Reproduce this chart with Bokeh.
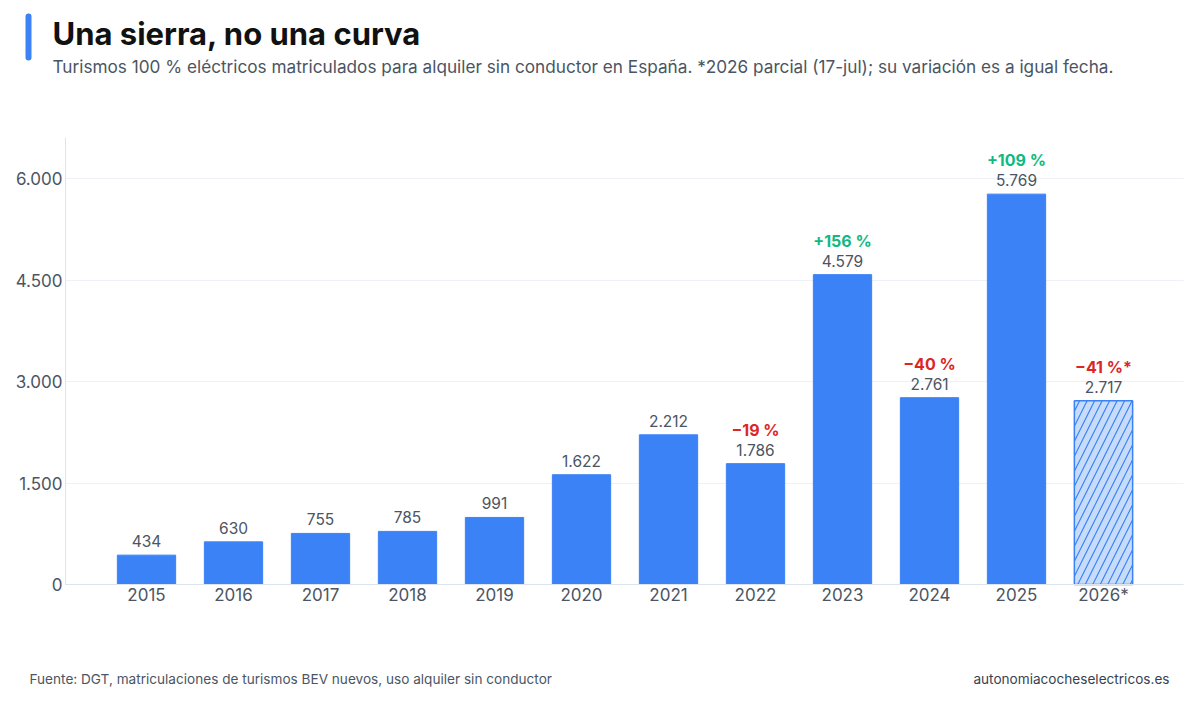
from bokeh.plotting import figure
from bokeh.models import ColumnDataSource, Label, FixedTicker, BoxAnnotation, Range1d
from bokeh.core.properties import value
from bokeh.embed import file_html
from bokeh.resources import INLINE

# ---- data ----
categories = ["2015", "2016", "2017", "2018", "2019", "2020", "2021", "2022", "2023", "2024", "2025", "2026*"]
registrations = [434, 630, 755, 785, 991, 1622, 2212, 1786, 4579, 2761, 5769, 2717]
variation_labels = ["", "", "", "", "", "", "", "\u221219 %", "+156 %", "\u221240 %", "+109 %", "\u221241 %*"]
variation_sign = [0, 0, 0, 0, 0, 0, 0, -1, 1, -1, 1, -1]
partial_year = [False] * 11 + [True]
y_ticks = [0, 1500, 3000, 4500, 6000]

TITLE = "Una sierra, no una curva"
SUBTITLE = "Turismos 100 % eléctricos matriculados para alquiler sin conductor en España. *2026 parcial (17-jul); su variación es a igual fecha."
SOURCE = "Fuente: DGT, matriculaciones de turismos BEV nuevos, uso alquiler sin conductor"
SITE = "autonomiacocheselectricos.es"

FONT = "Inter"
BLUE = "#3b82f6"
GREEN = "#10b981"
RED = "#dc2626"
GRAY = "#4b5563"

# ---- layout geometry (canvas pixels) ----
W, H = 1184, 687
PLOT_L, PLOT_R, PLOT_T, PLOT_B = 65, 1183, 137, 584
FIRST_CAT_PX, CAT_STEP_PX = 146, 87
PX_PER_UNIT = 406 / 6000

def fmt(v):
    return f"{v:,}".replace(",", ".")

def xd(px):
    return (px - FIRST_CAT_PX) / CAT_STEP_PX

def yd(py):
    return (PLOT_B - py) / PX_PER_UNIT

idx = list(range(len(categories)))
full = dict(x=[], y=[], lab=[])
part = dict(x=[], y=[], lab=[])
for i, v, pf in zip(idx, registrations, partial_year):
    d = part if pf else full
    d["x"].append(i); d["y"].append(v); d["lab"].append(fmt(v))

pct = dict(x=[], y=[], lab=[], col=[])
for i, v, lab, s in zip(idx, registrations, variation_labels, variation_sign):
    if lab:
        pct["x"].append(i); pct["y"].append(v); pct["lab"].append(lab)
        pct["col"].append(GREEN if s > 0 else RED)

p = figure(width=W, height=H, output_backend="svg", toolbar_location=None,
           x_range=Range1d(xd(0), xd(W)), y_range=Range1d(yd(H), yd(0)), title=None, min_border=0)
p.outline_line_color = None
p.background_fill_color = "white"
p.border_fill_color = "white"

p.vbar(x="x", top="y", width=0.67, source=ColumnDataSource(full), fill_color=BLUE, line_color=BLUE)
p.vbar(x="x", top="y", width=0.67, source=ColumnDataSource(part), fill_color="#c6dcfa",
       line_color=BLUE, line_width=1.5, hatch_pattern="/", hatch_color=BLUE, hatch_scale=15, hatch_weight=1.2)

all_lab = dict(x=full["x"] + part["x"], y=full["y"] + part["y"], lab=full["lab"] + part["lab"])
p.text(x="x", y="y", text="lab", source=ColumnDataSource(all_lab), text_align="center",
       text_baseline="alphabetic", y_offset=-14, text_font=value(FONT), text_font_size="15.5px", text_color=GRAY)
p.text(x="x", y="y", text="lab", source=ColumnDataSource(pct), text_align="center",
       text_baseline="alphabetic", y_offset=-34, text_font=value(FONT), text_font_size="16px",
       text_font_style="bold", text_color="col")

# axes placed at fixed data locations inside the full-canvas frame
p.xaxis.ticker = FixedTicker(ticks=idx)
p.xaxis.major_label_overrides = {i: c for i, c in zip(idx, categories)}
p.xaxis.fixed_location = 0
p.xaxis.bounds = (xd(PLOT_L), xd(PLOT_R))
p.yaxis.ticker = FixedTicker(ticks=y_ticks)
p.yaxis.major_label_overrides = {t: fmt(t) for t in y_ticks}
p.yaxis.fixed_location = xd(PLOT_L)
p.yaxis.bounds = (0, yd(PLOT_T))
for ax in (p.xaxis, p.yaxis):
    ax.major_tick_line_color = None
    ax.minor_tick_line_color = None
    ax.major_tick_out = 0
    ax.major_tick_in = 0
    ax.minor_tick_out = 0
    ax.axis_line_color = "#dde4ee"
    ax.major_label_text_font = FONT
    ax.major_label_text_font_size = "17px"
    ax.major_label_text_color = GRAY
p.xaxis.major_label_standoff = 0
p.yaxis.major_label_standoff = 3
p.xgrid.grid_line_color = None
p.ygrid.grid_line_color = "#eef1f5"
p.ygrid.bounds = (0, yd(PLOT_T))
yg = p.ygrid[0]
if "cross_bounds" in yg.properties():
    yg.cross_bounds = (xd(PLOT_L), xd(PLOT_R))

# header / footer (screen units: x from left, y from bottom of the canvas-wide frame)
p.add_layout(BoxAnnotation(left=25, right=31, top=H - 13, bottom=H - 60,
                           left_units="screen", right_units="screen", top_units="screen", bottom_units="screen",
                           fill_color=BLUE, fill_alpha=1, line_color=None, border_radius=3))
p.add_layout(Label(x=52, y=H - 33, x_units="screen", y_units="screen", text=TITLE, text_font=FONT,
                   text_font_size="31px", text_font_style="bold", text_color="#111111", text_baseline="alphabetic"))
p.add_layout(Label(x=52, y=H - 66, x_units="screen", y_units="screen", text=SUBTITLE, text_font=FONT,
                   text_font_size="17.2px", text_color=GRAY, text_baseline="alphabetic"))
p.add_layout(Label(x=29, y=H - 678, x_units="screen", y_units="screen", text=SOURCE, text_font=FONT,
                   text_font_size="13.6px", text_color=GRAY, text_baseline="alphabetic"))
p.add_layout(Label(x=1169, y=H - 678, x_units="screen", y_units="screen", text=SITE, text_align="right",
                   text_font=FONT, text_font_size="13.6px", text_color="#374151", text_baseline="alphabetic"))

open("out.html", "w").write(file_html(p, INLINE))
